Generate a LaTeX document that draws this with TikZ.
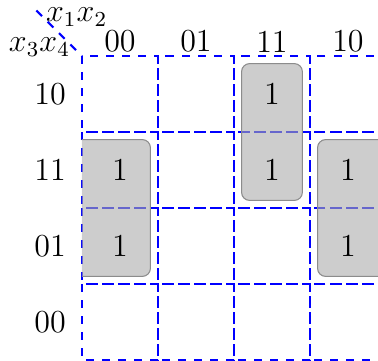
\documentclass[tikz,border=0pt]{standalone}
\begin{document}
\begin{tikzpicture}[x=1cm,y=1cm,
  cellbox/.style={draw=blue, thick, dashed},
  grp/.style={draw=black!45, fill=black!33, fill opacity=0.6, rounded corners=3pt},
  one/.style={font=\large, inner sep=0pt},
  hdr/.style={font=\large, inner sep=0pt}]
\useasboundingbox (-1.079,0.737) rectangle (3.895,-4.013);
\clip (-1.079,0.737) rectangle (3.895,-4.013);
% grid
\foreach \i in {0,...,3}
  \foreach \j in {0,...,3}
    \draw[cellbox] (\i,-\j) rectangle ++(1,-1);
% groups
\begin{scope}
  \clip (0,0.05) rectangle (4.2,-4.05);
  \draw[grp] (2.1,-0.1) rectangle (2.9,-1.9);
  \draw[grp] (-0.9,-1.1) rectangle (0.9,-2.9);
  \draw[grp] (3.1,-1.1) rectangle (4.9,-2.9);
\end{scope}
% ones
\node[one] (c1) at (2.5,-0.5) {1};
\node[one] (c2) at (2.5,-1.5) {1};
\node[one] (c3) at (0.5,-1.5) {1};
\node[one] (c4) at (0.5,-2.5) {1};
\node[one] (c5) at (3.5,-1.5) {1};
\node[one] (c6) at (3.5,-2.5) {1};
% column headers
\node[hdr] (h1) at (0.5,0.19) {00};
\node[hdr] (h2) at (1.5,0.19) {01};
\node[hdr] (h3) at (2.5,0.19) {11};
\node[hdr] (h4) at (3.5,0.19) {10};
% row headers
\node[hdr] (r1) at (-0.42,-0.5) {10};
\node[hdr] (r2) at (-0.42,-1.5) {11};
\node[hdr] (r3) at (-0.42,-2.5) {01};
\node[hdr] (r4) at (-0.42,-3.5) {00};
% corner
\coordinate (o) at (0,0);
\coordinate (d) at (-0.6,0.6);
\draw[cellbox] (d) -- (o);
\node[font=\large, inner sep=0pt] (v1) at (-0.07,0.51) {$x_1x_2$};
\node[font=\large, inner sep=0pt] (v2) at (-0.56,0.12) {$x_3x_4$};
\end{tikzpicture}
\end{document}
